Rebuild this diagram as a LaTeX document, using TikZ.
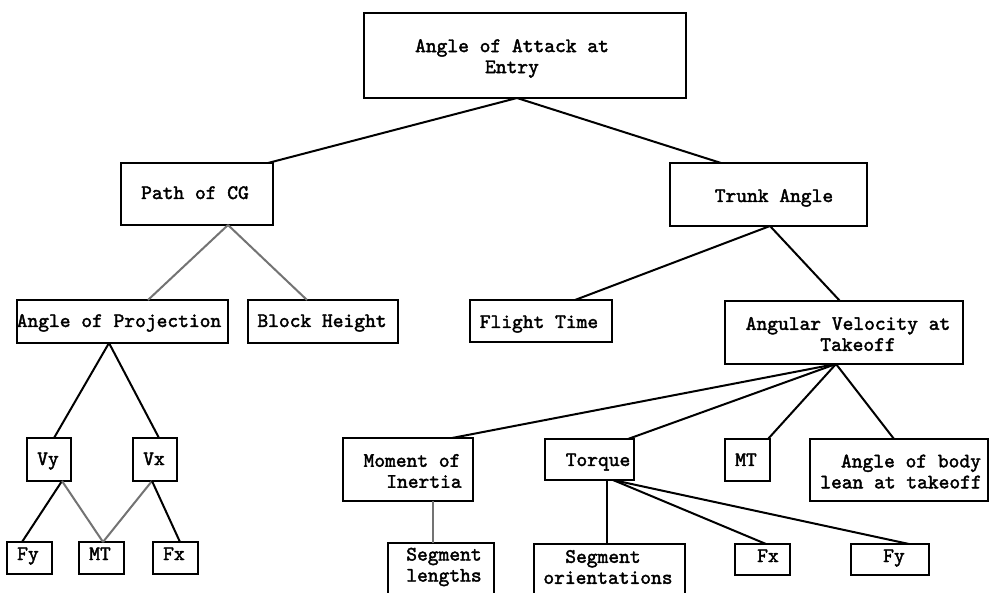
\documentclass[tikz,border=0pt]{standalone}
\usepackage{fontspec}
\newfontfamily\tw{lmmono10-regular.otf}[FakeBold=2]
\begin{document}
\begin{tikzpicture}[x=1pt,y=-1pt,
  box/.style={draw, line width=1.6pt, inner sep=0pt, outer sep=0pt, rectangle},
  lbl/.style={font=\tw\fontsize{20.5}{21}\selectfont, align=center, inner sep=0pt},
  con/.style={line width=2pt, black},
  gcon/.style={line width=2pt, black!55}]
\fill[white] (0,0) rectangle (991,593);
\useasboundingbox (0,0) rectangle (991,593);

% boxes
\node[box, minimum width=322pt, minimum height=85pt] (top) at (525,55.5) {};
\node[box, minimum width=152pt, minimum height=62pt] (pcg) at (197,194) {};
\node[box, minimum width=197pt, minimum height=63pt] (trunk) at (768.5,194.5) {};
\node[box, minimum width=211pt, minimum height=43pt] (aop) at (122.5,321.5) {};
\node[box, minimum width=150pt, minimum height=43pt] (bh) at (323,321.5) {};
\node[box, minimum width=142pt, minimum height=42pt] (ft) at (541,321) {};
\node[box, minimum width=238pt, minimum height=63pt] (av) at (844,332.5) {};
\node[box, minimum width=44pt, minimum height=43pt] (vy) at (49,459.5) {};
\node[box, minimum width=44pt, minimum height=43pt] (vx) at (155,459.5) {};
\node[box, minimum width=45pt, minimum height=32pt] (fya) at (29.5,558) {};
\node[box, minimum width=45pt, minimum height=32pt] (mta) at (101.5,558) {};
\node[box, minimum width=45pt, minimum height=32pt] (fxa) at (175.5,558) {};
\node[box, minimum width=130pt, minimum height=63pt] (moi) at (408,469.5) {};
\node[box, minimum width=89pt, minimum height=41pt] (tq) at (589.5,459.5) {};
\node[box, minimum width=45pt, minimum height=42pt] (mtb) at (747.5,460) {};
\node[box, minimum width=178pt, minimum height=62pt] (abl) at (899,470) {};
\node[box, minimum width=106pt, minimum height=62pt] (sl) at (441,574) {};
\node[box, minimum width=151pt, minimum height=61pt] (so) at (609.5,574.5) {};
\node[box, minimum width=55pt, minimum height=31pt] (fxb) at (762.5,559.5) {};
\node[box, minimum width=78pt, minimum height=31pt] (fyb) at (890,559.5) {};

% texts
\node[lbl] (topt) at (512,58.5) {Angle of Attack at\\Entry};
\node[lbl, anchor=base] (pcgt) at (195,199) {Path of CG};
\node[lbl, anchor=base] (trunkt) at (774,202) {Trunk Angle};
\node[lbl, anchor=base] (aopt) at (119,327) {Angle of Projection};
\node[lbl, anchor=base] (bht) at (322,327) {Block Height};
\node[lbl, anchor=base] (ftt) at (539,328) {Flight Time};
\node[lbl] (avt) at (848,334) {Angular Velocity at\\\hspace*{20pt}Takeoff};
\node[lbl, anchor=base] (vyt) at (48,465) {Vy};
\node[lbl, anchor=base] (vxt) at (154,465) {Vx};
\node[lbl, anchor=base] (fyat) at (28,560) {Fy};
\node[lbl, anchor=base] (mtat) at (100,560) {MT};
\node[lbl, anchor=base] (fxat) at (174,560) {Fx};
\node[lbl] (moit) at (412,471) {Moment of\\\hspace*{24pt}Inertia};
\node[lbl, anchor=base] (tqt) at (598,466) {Torque};
\node[lbl, anchor=base] (mtbt) at (746,466) {MT};
\node[lbl] (ablt) at (901,471.5) {\hspace*{20pt}Angle of body\\lean at takeoff};
\node[lbl] (slt) at (444,567) {Segment\\lengths};
\node[lbl] (sot) at (608,567) {Segment\hspace*{10pt}\\orientations};
\node[lbl, anchor=base] (fxbt) at (768,562) {Fx};
\node[lbl, anchor=base] (fybt) at (894,562) {Fy};

% connectors
\draw[con] ([xshift=-8pt]top.south) -- ([xshift=-5pt]pcg.north east);
\draw[con] ([xshift=-8pt]top.south) -- ([xshift=51pt]trunk.north west);
\draw[gcon] ([xshift=31pt]pcg.south) -- ([xshift=25.5pt]aop.north);
\draw[gcon] ([xshift=31pt]pcg.south) -- ([xshift=-16pt]bh.north);
\draw[con] ([xshift=1.5pt]trunk.south) -- ([xshift=34pt]ft.north);
\draw[con] ([xshift=1.5pt]trunk.south) -- ([xshift=-4pt]av.north);
\draw[con] ([xshift=-13.5pt]aop.south) -- ([xshift=5pt]vy.north);
\draw[con] ([xshift=-13.5pt]aop.south) -- ([xshift=4pt]vx.north);
\draw[con] ([xshift=13pt]vy.south) -- ([xshift=-7.5pt]fya.north);
\draw[gcon] ([xshift=13pt]vy.south) -- ([xshift=1.5pt]mta.north);
\draw[gcon] ([xshift=-3pt]vx.south) -- ([xshift=1.5pt]mta.north);
\draw[con] ([xshift=-3pt]vx.south) -- ([xshift=4.5pt]fxa.north);
\draw[con] ([xshift=-8pt]av.south) -- ([xshift=44pt]moi.north);
\draw[con] ([xshift=-8pt]av.south) -- ([xshift=38.5pt]tq.north);
\draw[con] ([xshift=-8pt]av.south) -- ([xshift=-2pt]mtb.north east);
\draw[con] ([xshift=-8pt]av.south) -- ([xshift=-5pt]abl.north);
\draw[gcon] ([xshift=25pt]moi.south) -- ([xshift=-8pt]sl.north);
\draw[con] ([xshift=17.5pt]tq.south) -- ([xshift=-2.5pt]so.north);
\draw[con] ([xshift=23.5pt]tq.south) -- ([xshift=3.5pt]fxb.north);
\draw[con] ([xshift=23.5pt]tq.south) -- ([xshift=19pt]fyb.north);
\end{tikzpicture}
\end{document}
